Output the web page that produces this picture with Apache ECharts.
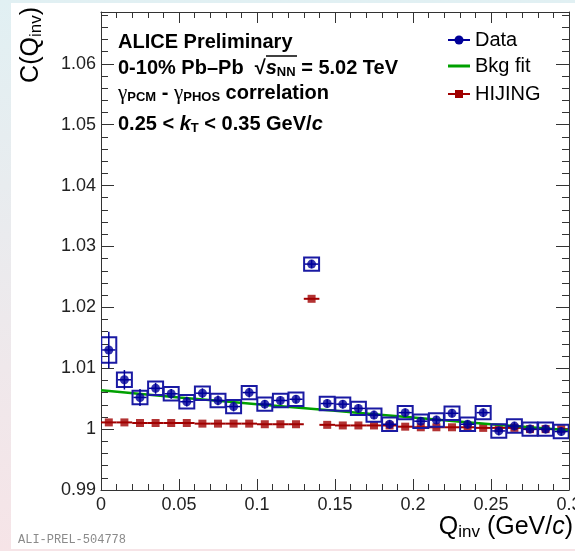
<!DOCTYPE html>
<html>
<head>
<meta charset="utf-8">
<script src="https://cdn.jsdelivr.net/npm/echarts@6.0.0/dist/echarts.min.js"></script>
<style>html,body{margin:0;padding:0;background:#fff;}#c{width:575px;height:551px;}</style>
</head>
<body>
<div id="c"></div>
<script>
// ---- data ----
const qinv = [0.005,0.015,0.025,0.035,0.045,0.055,0.065,0.075,0.085,0.095,
              0.105,0.115,0.125,0.135,0.145,0.155,0.165,0.175,0.185,0.195,
              0.205,0.215,0.225,0.235,0.245,0.255,0.265,0.275,0.285,0.295];
const dataC = [1.0130,1.0081,1.0052,1.0067,1.0058,1.0045,1.0059,1.0047,1.0037,1.0060,
               1.0041,1.0047,1.0049,1.0271,1.0042,1.0041,1.0034,1.0023,1.0008,1.0027,
               1.0013,1.0015,1.0026,1.0008,1.0027,0.9997,1.0005,1.0000,1.0000,0.9996];
const dataStat = [0.0030,0.0016,0.0014,0.0009,0.0008,0.0008,0.0008,0.0008,0.0008,0.0008,
                  0.0007,0.0007,0.0007,0.0007,0.0007,0.0007,0.0007,0.0007,0.0007,0.0007,
                  0.0007,0.0007,0.0007,0.0007,0.0007,0.0007,0.0007,0.0007,0.0007,0.0007];
const dataSys = [0.0021,0.0012,0.0011,0.0011,0.0011,0.0011,0.0011,0.0011,0.0011,0.0011,
                 0.0011,0.0011,0.0011,0.0011,0.0011,0.0011,0.0011,0.0011,0.0011,0.0011,
                 0.0011,0.0011,0.0011,0.0011,0.0011,0.0011,0.0011,0.0011,0.0011,0.0011];
const hijingC = [1.0011,1.0011,1.0010,1.0010,1.0010,1.0010,1.0009,1.0009,1.0009,1.0009,
                 1.0008,1.0008,1.0008,1.0214,1.0007,1.0006,1.0006,1.0006,1.0006,1.0004,
                 1.0003,1.0003,1.0003,1.0003,1.0002,1.0002,1.0002,1.0000,1.0000,1.0000];
const binHalfWidth = 0.005;
const fitX = [0, 0.05, 0.1, 0.15, 0.2, 0.25, 0.3];
const fitY = [1.0064, 1.0052, 1.0041, 1.0030, 1.0019, 1.0008, 0.9998];
const xTickStep = 0.05;
const yTickStep = 0.01;
const yMinorStep = 0.002;

// ---- styles ----
const F = '"Liberation Sans", Arial, Helvetica, sans-serif';
const FS = '"Liberation Serif", "Times New Roman", serif';
const blue = '#000099', boxBlue = '#1a1aa3', red = '#a00000', green = '#00a000';
const axisCol = '#333';

const chart = echarts.init(document.getElementById('c'), null, {renderer:'canvas'});

const dataItems = qinv.map((q,i)=>[q, dataC[i], dataStat[i], dataSys[i]]);
const hijItems = qinv.map((q,i)=>[q, hijingC[i]]);

const gridRect = {left:101, right:6, top:12, bottom:61, containLabel:false, outerBoundsMode:'none'};
const lineSt = {color:axisCol, width:1};

function xAx(pos, labels){
  return {gridIndex:0, type:'value', min:0, max:0.3, interval:xTickStep, position:pos,
    axisLine:{show:true, onZero:false, lineStyle:lineSt},
    axisTick:{show:true, inside:true, length:11, lineStyle:lineSt},
    minorTick:{show:true, splitNumber:5, length:6, lineStyle:lineSt},
    axisLabel:{show:labels, color:'#222', fontSize:18, fontFamily:F, margin:6},
    splitLine:{show:false}, minorSplitLine:{show:false}};
}
function yAx(grid, pos, step, tickLen, labels){
  return {gridIndex:grid, type:'value', min:0.99, max:1.0685, interval:step, position:pos,
    axisLine:{show:grid===0, onZero:false, lineStyle:lineSt},
    axisTick:{show:true, inside:true, length:tickLen, lineStyle:lineSt},
    axisLabel:{show:labels, showMaxLabel:false, color:'#222', fontSize:18, fontFamily:F, margin:5},
    splitLine:{show:false}};
}

const rich = {
  b:{fontFamily:F, fontSize:20, fontWeight:'bold', lineHeight:22, verticalAlign:'middle', color:'#000'},
  bi:{fontFamily:F, fontSize:20, fontWeight:'bold', fontStyle:'italic', lineHeight:22, verticalAlign:'middle', color:'#000'},
  g:{fontFamily:FS, fontSize:21, lineHeight:22, verticalAlign:'middle', color:'#000'},
  sub:{fontFamily:F, fontSize:13, fontWeight:'bold', lineHeight:11, verticalAlign:'bottom', color:'#000'}
};
const richT = {
  m:{fontFamily:F, fontSize:25, lineHeight:28, verticalAlign:'middle', color:'#000'},
  i:{fontFamily:F, fontSize:25, fontStyle:'italic', lineHeight:28, verticalAlign:'middle', color:'#000'},
  s:{fontFamily:F, fontSize:17, lineHeight:13, verticalAlign:'bottom', color:'#000'}
};

const option = {
  animation:false,
  backgroundColor:'transparent',
  grid:[Object.assign({}, gridRect), Object.assign({}, gridRect)],
  xAxis:[xAx('bottom', true), xAx('top', false),
         {gridIndex:1, type:'value', min:0, max:0.3, show:false}],
  yAxis:[yAx(0,'left',yTickStep,13,true), yAx(0,'right',yTickStep,13,false),
         yAx(1,'left',yMinorStep,7,false), yAx(1,'right',yMinorStep,7,false)],
  graphic:[
    {type:'rect', silent:true, z:-100, shape:{x:0,y:0,width:575,height:551},
     style:{fill:new echarts.graphic.LinearGradient(0,0,0,1,[{offset:0,color:'#e1f0f3'},{offset:1,color:'#f6e4e7'}])}},
    {type:'rect', silent:true, z:-99, shape:{x:11,y:3,width:564,height:546}, style:{fill:'#ffffff'}},
    // header text
    {type:'text', x:118, y:42, z:50, style:{text:'{b|ALICE Preliminary}', rich:rich, verticalAlign:'middle'}},
    {type:'text', x:118, y:68, z:50, style:{text:'{b|0-10% Pb\u2013Pb  }{b|\u221A}{bi|s}{sub|NN}{b| = 5.02 TeV}', rich:rich, verticalAlign:'middle'}},
    {type:'line', z:50, shape:{x1:266,y1:56,x2:297,y2:56}, style:{stroke:'#000', lineWidth:1.5}},
    {type:'text', x:118, y:93, z:50, style:{text:'{g|\u03B3}{sub|PCM}{b| - }{g|\u03B3}{sub|PHOS}{b| correlation}', rich:rich, verticalAlign:'middle'}},
    {type:'text', x:118, y:124, z:50, style:{text:'{b|0.25 < }{bi|k}{sub|T}{b| < 0.35 GeV/}{bi|c}', rich:rich, verticalAlign:'middle'}},
    // legend
    {type:'line', z:50, shape:{x1:448,y1:40,x2:470,y2:40}, style:{stroke:blue, lineWidth:2}},
    {type:'circle', z:51, shape:{cx:459,cy:40,r:4.5}, style:{fill:blue}},
    {type:'text', x:475, y:40, z:50, style:{text:'Data', font:'20px '+F, fill:'#000', verticalAlign:'middle'}},
    {type:'line', z:50, shape:{x1:448,y1:66,x2:470,y2:66}, style:{stroke:green, lineWidth:3}},
    {type:'text', x:475, y:66, z:50, style:{text:'Bkg fit', font:'20px '+F, fill:'#000', verticalAlign:'middle'}},
    {type:'line', z:50, shape:{x1:448,y1:94,x2:470,y2:94}, style:{stroke:red, lineWidth:2}},
    {type:'rect', z:51, shape:{x:455,y:90,width:8,height:8}, style:{fill:red}},
    {type:'text', x:475, y:94, z:50, style:{text:'HIJING', font:'20px '+F, fill:'#000', verticalAlign:'middle'}},
    // axis titles
    {type:'text', x:31, y:7, rotation:Math.PI/2, z:50, style:{text:'{m|C(Q}{s|inv}{m|)}', rich:richT, align:'right', verticalAlign:'middle'}},
    {type:'text', x:573, y:527, z:50, style:{text:'{m|Q}{s|inv}{m| (GeV/}{i|c}{m|)}', rich:richT, align:'right', verticalAlign:'middle'}},
    {type:'text', x:18, y:540, z:50, style:{text:'ALI-PREL-504778', font:'12px "Liberation Mono", "DejaVu Sans Mono", monospace', fill:'#8a8a8a', verticalAlign:'middle'}}
  ],
  series:[
    {type:'custom', xAxisIndex:0, yAxisIndex:0, z:3, clip:true, data:hijItems,
     renderItem:function(p, api){
       const x = api.value(0), y = api.value(1);
       const a = api.coord([x-binHalfWidth, y]), b = api.coord([x+binHalfWidth, y]);
       return {type:'line', shape:{x1:a[0],y1:a[1],x2:b[0],y2:b[1]}, style:{stroke:red, lineWidth:2}};
     }},
    {type:'scatter', xAxisIndex:0, yAxisIndex:0, z:4, data:hijItems, symbol:'rect', symbolSize:8,
     itemStyle:{color:red}},
    {type:'line', xAxisIndex:0, yAxisIndex:0, z:5, data:fitX.map((x,i)=>[x, fitY[i]]), smooth:true,
     showSymbol:false, lineStyle:{color:green, width:2.5}},
    {type:'custom', xAxisIndex:0, yAxisIndex:0, z:6, clip:true, data:dataItems,
     renderItem:function(p, api){
       const x = api.value(0), y = api.value(1), st = api.value(2), sy = api.value(3);
       const bh = binHalfWidth*0.96;
       const p1 = api.coord([x-bh, y+sy]), p2 = api.coord([x+bh, y-sy]);
       const l = api.coord([x-binHalfWidth*0.85, y]), r = api.coord([x+binHalfWidth*0.85, y]);
       const t = api.coord([x, y+st]), b = api.coord([x, y-st]);
       return {type:'group', children:[
         {type:'rect', shape:{x:p1[0], y:p1[1], width:p2[0]-p1[0], height:p2[1]-p1[1]},
          style:{fill:'none', stroke:boxBlue, lineWidth:2}},
         {type:'line', shape:{x1:l[0],y1:l[1],x2:r[0],y2:r[1]}, style:{stroke:blue, lineWidth:1.5}},
         {type:'line', shape:{x1:t[0],y1:t[1],x2:b[0],y2:b[1]}, style:{stroke:blue, lineWidth:1.5}}
       ]};
     }},
    {type:'scatter', xAxisIndex:0, yAxisIndex:0, z:7, data:dataItems.map(d=>[d[0], d[1]]),
     symbol:'circle', symbolSize:9, itemStyle:{color:blue}}
  ]
};
chart.setOption(option);
</script>
</body>
</html>
